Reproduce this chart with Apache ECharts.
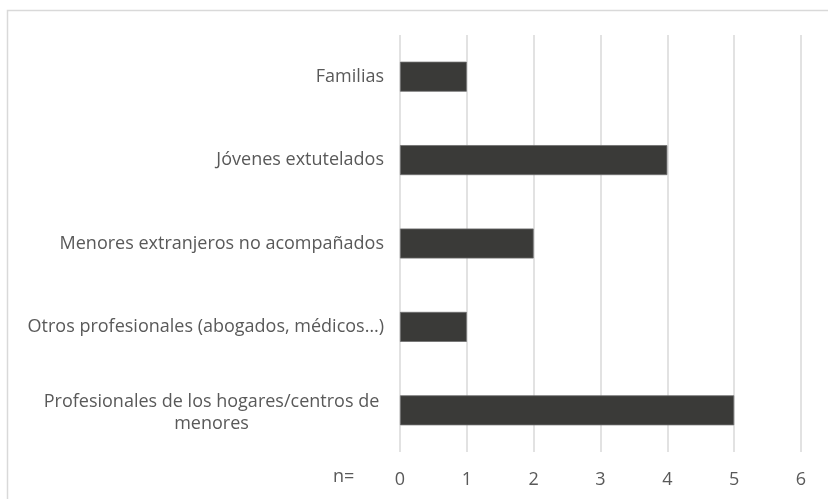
<!DOCTYPE html>
<html><head><meta charset="utf-8">
<script src="https://cdn.jsdelivr.net/npm/echarts@6/dist/echarts.min.js"></script>
<style>html,body{margin:0;padding:0;background:#fff}#c{width:828px;height:499px}</style>
</head><body><div id="c"></div>
<script>
const categories = [
  "Familias",
  "Jóvenes extutelados",
  "Menores extranjeros no acompañados",
  "Otros profesionales (abogados, médicos…)",
  "Profesionales de los hogares/centros de menores"
];
const values = [1, 4, 2, 1, 5];
const xTicks = [0, 1, 2, 3, 4, 5, 6];
const axisPrefix = "n=";

const FONT = "Open Sans";
const FS = 18;
const TXT = "#595959";
const chart = echarts.init(document.getElementById('c'), null, {renderer: 'canvas'});
chart.setOption({
  animation: false,
  backgroundColor: '#fff',
  grid: {left: 400, right: 27, top: 35, bottom: 47, containLabel: false},
  xAxis: {
    type: 'value', min: xTicks[0], max: xTicks[xTicks.length - 1], interval: 1,
    axisLine: {show: false}, axisTick: {show: false},
    splitLine: {show: true, lineStyle: {color: '#d9d9d9', width: 1.5}},
    axisLabel: {color: TXT, fontFamily: FONT, fontSize: FS, margin: 19}
  },
  yAxis: {
    type: 'category', data: categories, inverse: true,
    axisLine: {show: false}, axisTick: {show: false},
    axisLabel: {
      color: TXT, fontFamily: FONT, fontSize: FS, margin: 16, lineHeight: 22,
      formatter: function (v) {
        if (v.length > 42) {
          const i = v.lastIndexOf(' ');
          const a = v.slice(0, i), b = v.slice(i + 1);
          return '{t|}\n{c|' + a + '}\n{c|' + b + '}';
        }
        return v;
      },
      rich: {
        t: {height: 6, lineHeight: 6},
        c: {width: 345, align: 'center', color: TXT, fontFamily: FONT, fontSize: FS, lineHeight: 22}
      }
    }
  },
  graphic: [
    {type: 'rect', shape: {x: 7.5, y: 10.5, width: 900, height: 600},
     style: {fill: 'none', stroke: '#d9d9d9', lineWidth: 1.5}, silent: true},
    {type: 'text', left: 333, top: 468,
     style: {text: axisPrefix, fill: TXT, font: FS + 'px "' + FONT + '"'}}
  ],
  series: [{
    type: 'bar', data: values, barWidth: '36%',
    itemStyle: {color: '#3a3a38', borderColor: '#6f6f6f', borderWidth: 0.8}
  }]
});
</script></body></html>
